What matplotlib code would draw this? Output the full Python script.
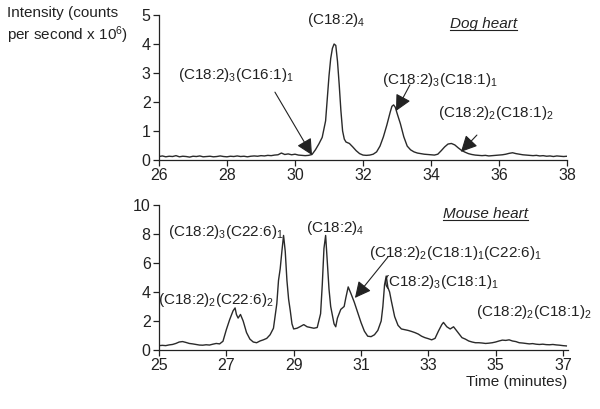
import matplotlib
matplotlib.use("Agg")
import matplotlib.pyplot as plt
from matplotlib.lines import Line2D

plt.rcParams['font.family'] = ['Liberation Sans', 'DejaVu Sans']
plt.rcParams['mathtext.fontset'] = 'custom'
plt.rcParams['mathtext.rm'] = 'Liberation Sans'
plt.rcParams['mathtext.it'] = 'Liberation Sans:italic'
plt.rcParams['mathtext.default'] = 'regular'

# dog heart trace (time in minutes, intensity x 10^6 counts/s)
dog_time = [26.0, 26.1, 26.2, 26.3, 26.4, 26.5, 26.6, 26.7, 26.8, 26.9,
            27.0, 27.1, 27.2, 27.3, 27.4, 27.5, 27.6, 27.7, 27.8, 27.9,
            28.0, 28.1, 28.2, 28.3, 28.4, 28.5, 28.6, 28.7, 28.8, 28.9,
            29.0, 29.1, 29.2, 29.3, 29.4, 29.5, 29.6, 29.7, 29.8, 29.9,
            30.0, 30.1, 30.2, 30.3, 30.4, 30.5, 30.6, 30.7, 30.8, 30.9,
            31.0, 31.05, 31.1, 31.15, 31.2, 31.25, 31.3, 31.35, 31.4, 31.45,
            31.5, 31.6, 31.7, 31.8, 31.9, 32.0, 32.1, 32.2, 32.3, 32.4,
            32.5, 32.6, 32.7, 32.8, 32.85, 32.9, 32.95, 33.0, 33.1, 33.2,
            33.3, 33.4, 33.5, 33.6, 33.7, 33.8, 33.9, 34.0, 34.1, 34.2,
            34.3, 34.4, 34.5, 34.6, 34.7, 34.8, 34.9, 35.0, 35.1, 35.2,
            35.3, 35.4, 35.5, 35.6, 35.7, 35.8, 35.9, 36.0, 36.1, 36.2,
            36.3, 36.4, 36.5, 36.6, 36.7, 36.8, 36.9, 37.0, 37.1, 37.2,
            37.3, 37.4, 37.5, 37.6, 37.7, 37.8, 37.9, 38.0]
dog_int = [0.12, 0.14, 0.11, 0.13, 0.12, 0.15, 0.11, 0.13, 0.12, 0.10,
           0.13, 0.12, 0.14, 0.11, 0.12, 0.13, 0.11, 0.12, 0.14, 0.12,
           0.11, 0.13, 0.12, 0.14, 0.12, 0.13, 0.11, 0.13, 0.14, 0.13,
           0.15, 0.14, 0.16, 0.15, 0.17, 0.18, 0.24, 0.19, 0.21, 0.18,
           0.20, 0.17, 0.16, 0.15, 0.16, 0.19, 0.35, 0.55, 0.78, 1.35,
           2.90, 3.50, 3.85, 4.00, 3.95, 3.40, 2.60, 1.70, 1.00, 0.72,
           0.62, 0.57, 0.45, 0.32, 0.22, 0.17, 0.16, 0.17, 0.20, 0.28,
           0.48, 0.80, 1.20, 1.65, 1.85, 1.90, 1.82, 1.62, 1.25, 0.80,
           0.48, 0.35, 0.28, 0.24, 0.22, 0.20, 0.19, 0.18, 0.17, 0.20,
           0.32, 0.45, 0.55, 0.57, 0.52, 0.42, 0.33, 0.27, 0.22, 0.19,
           0.17, 0.16, 0.15, 0.16, 0.14, 0.15, 0.16, 0.17, 0.18, 0.20,
           0.23, 0.25, 0.22, 0.20, 0.18, 0.17, 0.16, 0.15, 0.16, 0.14,
           0.15, 0.13, 0.14, 0.12, 0.14, 0.13, 0.12, 0.13]

# mouse heart trace
mouse_time = [25.0, 25.1, 25.2, 25.3, 25.4, 25.5, 25.6, 25.7, 25.8, 25.9,
              26.0, 26.1, 26.2, 26.3, 26.4, 26.5, 26.6, 26.7, 26.8, 26.9,
              27.0, 27.1, 27.2, 27.26, 27.3, 27.35, 27.42, 27.5, 27.6, 27.7,
              27.8, 27.9, 28.0, 28.1, 28.2, 28.3, 28.4, 28.5, 28.55, 28.6,
              28.65, 28.7, 28.75, 28.8, 28.85, 28.9, 28.95, 29.0, 29.1, 29.2,
              29.3, 29.4, 29.5, 29.6, 29.7, 29.8, 29.85, 29.9, 29.95, 30.0,
              30.05, 30.1, 30.2, 30.25, 30.3, 30.4, 30.5, 30.55, 30.62, 30.7,
              30.8, 30.9, 31.0, 31.1, 31.2, 31.3, 31.4, 31.5, 31.6, 31.65,
              31.7, 31.75, 31.8, 31.85, 31.9, 32.0, 32.1, 32.2, 32.3, 32.4,
              32.5, 32.6, 32.7, 32.8, 32.9, 33.0, 33.1, 33.2, 33.3, 33.4,
              33.45, 33.55, 33.65, 33.75, 33.85, 34.0, 34.1, 34.2, 34.3, 34.4,
              34.5, 34.6, 34.7, 34.8, 34.9, 35.0, 35.1, 35.2, 35.3, 35.4,
              35.5, 35.6, 35.7, 35.8, 35.9, 36.0, 36.1, 36.2, 36.3, 36.4,
              36.5, 36.6, 36.7, 36.8, 36.9, 37.0, 37.1]
mouse_int = [0.30, 0.32, 0.30, 0.35, 0.38, 0.45, 0.55, 0.58, 0.52, 0.45,
             0.42, 0.38, 0.34, 0.33, 0.36, 0.34, 0.40, 0.45, 0.42, 0.60,
             1.40, 2.10, 2.70, 2.90, 2.45, 2.20, 2.45, 2.00, 1.20, 0.75,
             0.55, 0.50, 0.62, 0.70, 0.80, 1.05, 1.50, 3.20, 4.80, 5.60,
             6.80, 7.90, 6.80, 4.80, 3.50, 2.70, 1.80, 1.45, 1.50, 1.62,
             1.75, 1.60, 1.55, 1.50, 1.55, 2.50, 4.50, 7.00, 7.90, 6.00,
             4.20, 3.00, 1.80, 1.60, 2.20, 2.80, 3.00, 3.60, 4.35, 3.90,
             3.30, 2.60, 1.90, 1.30, 0.95, 0.92, 1.05, 1.35, 2.00, 3.00,
             4.50, 5.10, 4.30, 4.00, 3.40, 2.30, 1.70, 1.45, 1.40, 1.35,
             1.28, 1.20, 1.10, 0.95, 0.85, 0.78, 0.70, 0.80, 1.30, 1.75,
             1.90, 1.60, 1.45, 1.60, 1.30, 0.85, 0.75, 0.62, 0.55, 0.50,
             0.50, 0.48, 0.45, 0.47, 0.50, 0.55, 0.62, 0.68, 0.66, 0.70,
             0.62, 0.58, 0.50, 0.48, 0.45, 0.42, 0.44, 0.40, 0.38, 0.40,
             0.37, 0.36, 0.38, 0.35, 0.33, 0.30, 0.28]

dog_ticks = [26, 28, 30, 32, 34, 36, 38]
mouse_ticks = [25, 27, 29, 31, 33, 35, 37]

ink = '#222222'
fs = 11

fig = plt.figure(figsize=(6.0, 4.09), dpi=100)
ax1 = fig.add_axes([0.265, 0.6088, 0.68, 0.3545])
ax2 = fig.add_axes([0.265, 0.1443, 0.6817, 0.3545])


def style(ax, xticks, ymax, ystep):
    for s in ['top', 'right']:
        ax.spines[s].set_visible(False)
    for s in ['left', 'bottom']:
        ax.spines[s].set_color(ink)
        ax.spines[s].set_linewidth(0.9)
    ax.set_xticks(xticks)
    ax.set_yticks(range(0, ymax + 1, ystep))
    ax.tick_params(direction='out', length=4, width=0.9, colors=ink,
                   labelsize=11.5, pad=2)


ax1.plot(dog_time, dog_int, color='#2a2a2a', lw=1.0)
ax1.set_xlim(26, 38)
ax1.set_ylim(0, 5)
style(ax1, dog_ticks, 5, 1)

ax2.plot(mouse_time, mouse_int, color='#2a2a2a', lw=1.0)
ax2.set_xlim(25, 37.15)
ax2.set_ylim(0, 10)
style(ax2, mouse_ticks, 10, 2)

arrow = dict(arrowstyle='-|>,head_length=0.7,head_width=0.35', color=ink,
             lw=0.8, mutation_scale=14, shrinkA=0, shrinkB=0)

# dog heart labels
ax1.text(28.26, 2.93, '(C18:2)$_3$(C16:1)$_1$', ha='center', va='center',
         fontsize=fs, color=ink)
ax1.annotate('', xy=(30.5, 0.17), xytext=(29.41, 2.34), arrowprops=arrow)
ax1.text(31.2, 4.83, '(C18:2)$_4$', ha='center', va='center', fontsize=fs, color=ink)
dog_lbl = ax1.text(35.55, 4.7, 'Dog heart', ha='center', va='center',
                   fontsize=fs, style='italic', color=ink)
ax1.text(34.26, 2.76, '(C18:2)$_3$(C18:1)$_1$', ha='center', va='center',
         fontsize=fs, color=ink)
ax1.annotate('', xy=(32.97, 1.69), xytext=(33.38, 2.59), arrowprops=arrow)
ax1.text(35.91, 1.62, '(C18:2)$_2$(C18:1)$_2$', ha='center', va='center',
         fontsize=fs, color=ink)
ax1.annotate('', xy=(34.88, 0.28), xytext=(35.35, 0.86), arrowprops=arrow)

# mouse heart labels
mouse_lbl = ax2.text(34.7, 9.4, 'Mouse heart', ha='center', va='center',
                     fontsize=fs, style='italic', color=ink)
ax2.text(30.25, 8.41, '(C18:2)$_4$', ha='center', va='center', fontsize=fs, color=ink)
ax2.text(26.99, 8.14, '(C18:2)$_3$(C22:6)$_1$', ha='center', va='center',
         fontsize=fs, color=ink)
ax2.text(26.69, 3.45, '(C18:2)$_2$(C22:6)$_2$', ha='center', va='center',
         fontsize=fs, color=ink)
ax2.text(33.81, 6.69, '(C18:2)$_2$(C18:1)$_1$(C22:6)$_1$', ha='center', va='center',
         fontsize=fs, color=ink)
ax2.annotate('', xy=(30.82, 3.59), xytext=(31.8, 6.41), arrowprops=arrow)
ax2.text(33.37, 4.69, '(C18:2)$_3$(C18:1)$_1$', ha='center', va='center',
         fontsize=fs, color=ink)
ax2.text(36.13, 2.62, '(C18:2)$_2$(C18:1)$_2$', ha='center', va='center',
         fontsize=fs, color=ink)

fig.text(7 / 600, 1 - 6 / 409, 'Intensity (counts\nper second x 10$^6$)',
         ha='left', va='top', fontsize=fs, color=ink, linespacing=1.25)
fig.text(567 / 600, 1 - 382 / 409, 'Time (minutes)', ha='right', va='center',
         fontsize=fs, color=ink)

# underline the panel titles
fig.canvas.draw()
r = fig.canvas.get_renderer()
W, H = fig.get_size_inches() * fig.dpi
for t in [dog_lbl, mouse_lbl]:
    bb = t.get_window_extent(renderer=r)
    y = (bb.y0 + 1) / H
    fig.add_artist(Line2D([bb.x0 / W, bb.x1 / W], [y, y], color=ink, lw=0.8))

fig.savefig('out.png', dpi=100)
